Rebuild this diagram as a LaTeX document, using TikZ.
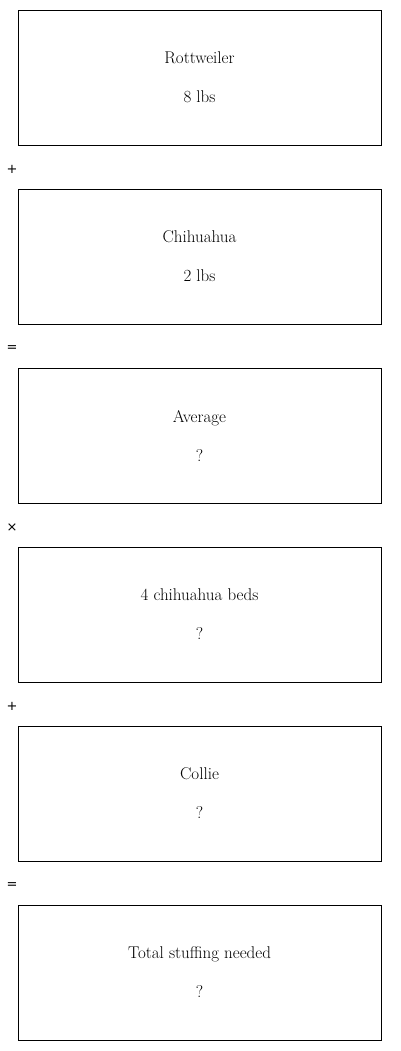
\documentclass[tikz,border=0pt]{standalone}
\usepackage{fontspec}
\newfontfamily\opfont{DejaVu Sans}
\usetikzlibrary{positioning}

\begin{document}
\begin{tikzpicture}[
  x=1pt, y=-1pt,
  node distance=44pt,
  card/.style={rectangle, draw, line width=0.8pt, align=center, inner sep=0pt,
    outer sep=0pt, minimum width=363pt, minimum height=135pt,
    font=\fontsize{17}{39}\selectfont},
  opsign/.style={inner sep=0pt, font=\opfont\fontsize{13}{15}\selectfont}
]
\useasboundingbox (0,0) rectangle (400,1051);

\node[card] (rott) at (199.5,77.5) {Rottweiler\\8 lbs};
\node[card, below=of rott] (chi) {Chihuahua\\2 lbs};
\node[card, below=of chi] (avg) {Average\\?};
\node[card, below=of avg] (beds) {4 chihuahua beds\\?};
\node[card, below=of beds] (collie) {Collie\\?};
\node[card, below=of collie] (total) {Total stuffing needed\\?};

\node[opsign] (plusa) at (12,169.5) {+};
\node[opsign] (eqa) at (12,348.5) {=};
\node[opsign] (times) at (12,527.5) {×};
\node[opsign] (plusb) at (12,706.5) {+};
\node[opsign] (eqb) at (12,885.5) {=};
\end{tikzpicture}
\end{document}
